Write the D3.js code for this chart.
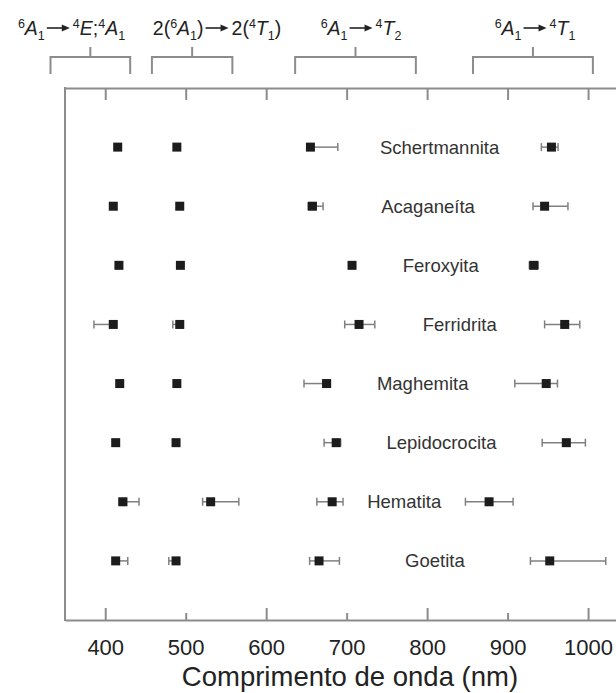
<!DOCTYPE html>
<html>
<head>
<meta charset="utf-8">
<script src="https://cdn.jsdelivr.net/npm/d3@7"></script>
<style>
  html, body { margin: 0; padding: 0; background: #fff; }
  svg { display: block; }
</style>
</head>
<body>
<svg id="chart" width="616" height="693"></svg>
<script>
// ---------- data ----------
const minerals = ["Schertmannita", "Acaganeíta", "Feroxyita", "Ferridrita",
                  "Maghemita", "Lepidocrocita", "Hematita", "Goetita"];

// band 1: 6A1 -> 4E;4A1
const band1Value = [415.5, 410, 417, 410, 418, 413, 422, 413];
const band1Low   = [415.5, 410, 417, 386, 418, 413, 417, 409];
const band1High  = [415.5, 410, 417, 412, 418, 413, 442, 428];
// band 2: 2(6A1) -> 2(4T1)
const band2Value = [489, 492.6, 493.4, 492.6, 489, 488, 531, 488];
const band2Low   = [489, 492.6, 493.4, 484, 489, 488, 521, 479];
const band2High  = [489, 492.6, 493.4, 497, 489, 488, 566, 491];
// band 3: 6A1 -> 4T2
const band3Value = [655, 657.5, 706.7, 715.4, 675, 687, 682, 665.7];
const band3Low   = [652, 652, 706.7, 697.6, 647, 672, 663, 654];
const band3High  = [689, 670.7, 706.7, 735, 680, 692.6, 695.5, 691];
// band 4: 6A1 -> 4T1
const band4Value = [954.5, 946, 932.5, 971, 948, 973, 877, 952.4];
const band4Low   = [942, 931.6, 927, 946, 909, 943, 847.6, 928.4];
const band4High  = [962.7, 975, 938, 989.7, 962, 996.7, 906.8, 1022];

const xTicks = [400, 500, 600, 700, 800, 900, 1000];
const xMajorTicks = [400, 600, 800, 1000];
const xTitle = "Comprimento de onda (nm)";

// wavelength ranges covered by the brackets at the top
const bracketLow  = [332, 458, 636, 857];
const bracketHigh = [431, 558, 786, 1006];
// transition labels: [text, style] with style n=normal, i=italic, sup, sub, arrow
const transitionLabels = [
  [["6","sup"],["A","i"],["1","sub"],["","arrow"],["4","sup"],["E","i"],[";","n"],["4","sup"],["A","i"],["1","sub"]],
  [["2(","n"],["6","sup"],["A","i"],["1","sub"],[")","n"],["","arrow"],["2(","n"],["4","sup"],["T","i"],["1","sub"],[")","n"]],
  [["6","sup"],["A","i"],["1","sub"],["","arrow"],["4","sup"],["T","i"],["2","sub"]],
  [["6","sup"],["A","i"],["1","sub"],["","arrow"],["4","sup"],["T","i"],["1","sub"]]
];
const transitionLabelCenterPx = [71.5, 217, 361, 535];

// ---------- layout ----------
const svg = d3.select("#chart");
const plotLeft = 65, plotTop = 88, plotBottom = 620;
const axisColor = "#8c8c8c";
const font = "'Liberation Sans', Arial, Helvetica, sans-serif";

const x = d3.scaleLinear().domain([350, 1050]).range([plotLeft, plotLeft + 700 * 0.8047]);
const y = d3.scalePoint().domain(minerals).range([plotTop, plotBottom]).padding(1);

// ---------- frame ----------
svg.append("line").attr("x1", plotLeft).attr("x2", plotLeft).attr("y1", plotTop - 1).attr("y2", plotBottom + 1)
  .attr("stroke", axisColor).attr("stroke-width", 2);

// top axis (ticks downward, no labels)
const topAxis = svg.append("g").attr("transform", `translate(0,${plotTop})`)
  .call(d3.axisBottom(x).tickValues(xTicks).tickSizeInner(12).tickSizeOuter(0).tickFormat(""));
topAxis.selectAll("path.domain").attr("stroke", axisColor).attr("stroke-width", 2);
topAxis.selectAll(".tick line").attr("stroke", axisColor).attr("stroke-width", 2);

// bottom axis (ticks upward, labels below)
const botAxis = svg.append("g").attr("transform", `translate(0,${plotBottom})`)
  .call(d3.axisBottom(x).tickValues(xTicks).tickFormat(d3.format("d"))
    .tickSizeInner(-12).tickSizeOuter(0).tickPadding(19));
botAxis.selectAll("path.domain").attr("stroke", axisColor).attr("stroke-width", 2);
botAxis.selectAll(".tick line").attr("stroke", axisColor).attr("stroke-width", 2)
  .attr("y2", d => xMajorTicks.includes(d) ? -12 : -7);
botAxis.selectAll(".tick text").attr("font-family", font).attr("font-size", 22).attr("fill", "#222");

svg.append("text").attr("x", 350).attr("y", 686).attr("text-anchor", "middle")
  .attr("font-family", font).attr("font-size", 27.5).attr("fill", "#222").text(xTitle);

// ---------- brackets ----------
const bracketColor = "#8c8c8c";
bracketLow.forEach((lo, i) => {
  const hi = bracketHigh[i];
  const x0 = x(lo), x1 = x(hi), xm = (x0 + x1) / 2;
  svg.append("path")
    .attr("d", `M${x0},74 V57 H${x1} V74 M${xm},57 V47`)
    .attr("fill", "none").attr("stroke", bracketColor).attr("stroke-width", 2);
});

// transition labels (arrow drawn as a path in a gap left in the text)
const arrowLen = 23, arrowGapL = 2, arrowGapR = 3, labelBase = 35;
transitionLabels.forEach((parts, i) => {
  const t = svg.append("text").attr("x", transitionLabelCenterPx[i]).attr("y", labelBase)
    .attr("text-anchor", "middle").attr("font-family", font).attr("font-size", 19.5).attr("fill", "#222");
  let off = 0, chars = 0, arrowAfter = -1, pendingDx = 0;
  parts.forEach(([s, kind]) => {
    if (kind === "arrow") { arrowAfter = chars - 1; pendingDx = arrowGapL + arrowLen + arrowGapR; return; }
    const target = kind === "sup" ? -7.5 : kind === "sub" ? 4.5 : 0;
    const sp = t.append("tspan").attr("dy", target - off).text(s);
    if (pendingDx) { sp.attr("dx", pendingDx); pendingDx = 0; }
    off = target;
    chars += s.length;
    if (kind === "sup" || kind === "sub") sp.attr("font-size", 12.5);
    if (kind === "i") sp.attr("font-style", "italic");
  });
  const node = t.node();
  const endPt = node.getEndPositionOfChar(arrowAfter);
  const ax0 = endPt.x + arrowGapL, ax1 = ax0 + arrowLen, ay = labelBase - 7;
  svg.append("line").attr("x1", ax0).attr("x2", ax1 - 6).attr("y1", ay).attr("y2", ay)
    .attr("stroke", "#222").attr("stroke-width", 1.6);
  svg.append("path").attr("d", `M${ax1},${ay} L${ax1 - 8},${ay - 3.5} L${ax1 - 8},${ay + 3.5} Z`)
    .attr("fill", "#222");
});

// ---------- error bars & points ----------
const bands = [
  [band1Value, band1Low, band1High],
  [band2Value, band2Low, band2High],
  [band3Value, band3Low, band3High],
  [band4Value, band4Low, band4High]
];
const errColor = "#808080";
const sq = 9;
bands.forEach(([vals, lows, highs]) => {
  const g = svg.append("g");
  minerals.forEach((m, j) => {
    const cy = y(m);
    if (highs[j] - lows[j] > 0.01) {
      g.append("line").attr("x1", x(lows[j])).attr("x2", x(highs[j])).attr("y1", cy).attr("y2", cy)
        .attr("stroke", errColor).attr("stroke-width", 1.5);
      [lows[j], highs[j]].forEach(v => {
        g.append("line").attr("x1", x(v)).attr("x2", x(v)).attr("y1", cy - 4).attr("y2", cy + 4)
          .attr("stroke", errColor).attr("stroke-width", 1.5);
      });
    }
    g.append("rect").attr("x", x(vals[j]) - sq / 2).attr("y", cy - sq / 2)
      .attr("width", sq).attr("height", sq).attr("fill", "#1c1c1c");
  });
});

// mineral names, centred in the gap between band 3 and band 4
minerals.forEach((m, j) => {
  const cx = (x(band3High[j]) + x(band4Low[j])) / 2;
  svg.append("text").attr("x", cx).attr("y", y(m)).attr("dy", "0.35em")
    .attr("text-anchor", "middle").attr("font-family", font).attr("font-size", 18.5)
    .attr("fill", "#333").text(m);
});
</script>
</body>
</html>
